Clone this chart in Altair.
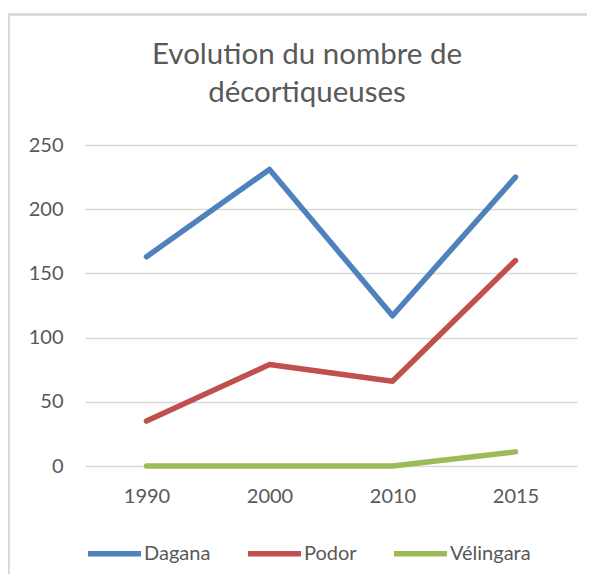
import altair as alt
import pandas as pd

years = ["1990", "2000", "2010", "2015"]
dagana = [163, 231, 117, 225]
podor = [35, 79, 66, 160]
velingara = [0, 0, 0, 11]
series_names = ["Dagana", "Podor", "Vélingara"]
series_colors = ["#4F81BD", "#C0504D", "#9BBB59"]

rows = []
for name, vals in zip(series_names, [dagana, podor, velingara]):
    for y, v in zip(years, vals):
        rows.append({"Année": y, "Nombre": v, "Zone": name})
df = pd.DataFrame(rows)

FONT = "Lato"
GRAY = "#595959"

lines = alt.Chart(df).mark_line(strokeWidth=5.5, strokeCap="round", strokeJoin="round").encode(
    x=alt.X("Année:N", sort=years, scale=alt.Scale(type="point", padding=0.5),
            axis=alt.Axis(title=None, labelAngle=0, domain=False, ticks=False, grid=False,
                          labelPadding=20, labelFontSize=20, labelColor=GRAY, labelFont=FONT)),
    y=alt.Y("Nombre:Q", scale=alt.Scale(domain=[0, 250], nice=False),
            axis=alt.Axis(title=None, values=[0, 50, 100, 150, 200, 250], domain=False, ticks=False,
                          gridColor="#D9D9D9", gridWidth=1.5, labelPadding=22,
                          labelFontSize=20, labelColor=GRAY, labelFont=FONT)),
    color=alt.Color("Zone:N", sort=series_names,
                    scale=alt.Scale(domain=series_names, range=series_colors),
                    legend=alt.Legend(title=None, orient="none", direction="horizontal",
                                      legendX=0, legendY=379, symbolType="stroke",
                                      symbolSize=2809, symbolStrokeWidth=5.5,
                                      labelFontSize=20, labelColor=GRAY, labelFont=FONT,
                                      labelOffset=0, columnPadding=26)),
    order=alt.Order("Année:N"),
)

border = alt.Chart(df).mark_rect(fill=None, stroke="#D9D9D9", strokeWidth=1.5).encode(
    x=alt.value(-76.5), x2=alt.value(700), y=alt.value(-130.5), y2=alt.value(700)
)

chart = alt.layer(border, lines).properties(
    width=492, height=321,
    padding={"left": 77, "top": 137, "right": 10, "bottom": 108},
    autosize=alt.AutoSizeParams(type="none"),
    title=alt.TitleParams(["Evolution du nombre de", "décortiqueuses"], anchor="middle",
                          font=FONT, fontSize=29.5, fontWeight="normal", color=GRAY,
                          lineHeight=38, offset=0, dx=-24, dy=95),
).configure_view(stroke=None)

chart.save("out.html", embed_options={"renderer": "svg", "actions": False})
